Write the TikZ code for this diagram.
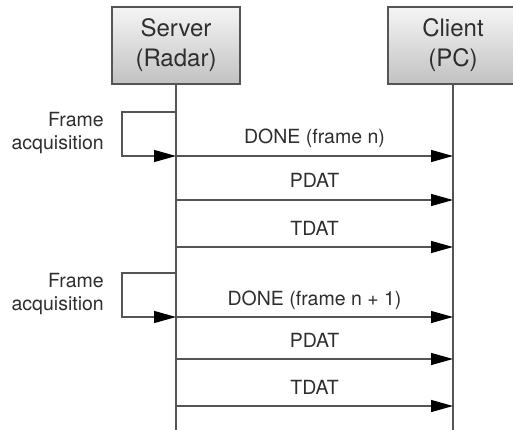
\documentclass[tikz,border=0pt]{standalone}
\usepackage{fontspec}
\setmainfont{TeX Gyre Heros}
\usepackage{xcolor}
\usetikzlibrary{positioning,calc,arrows.meta}
\definecolor{linegray}{HTML}{555555}
\definecolor{textgray}{HTML}{2E2E2E}

\begin{document}
\begin{tikzpicture}[x=1pt, y=-1pt,
    actor/.style={draw=linegray, line width=1.5pt, top color=gray!8, bottom color=gray!48, minimum width=128pt, minimum height=77pt, align=center, inner sep=0pt, text=textgray, font=\fontsize{24}{30}\selectfont},
    life/.style={draw=linegray, line width=1.2pt},
    msg/.style={draw=linegray, line width=1.2pt, -{Triangle[length=22pt, width=12pt, color=black]}},
    lbl/.style={inner sep=0pt, text=textgray, font=\fontsize{19.5}{23}\selectfont}
]
    \useasboundingbox (0,0) rectangle (513,430);

    \node [actor] (server) at (176,45.5) {Server\\(Radar)};
    \node [actor, minimum width=130pt] (client) at (453,45.5) {Client\\(PC)};

    % Lifelines
    \coordinate (serverEnd) at (176,430);
    \coordinate (clientEnd) at (453,430);
    \draw [life] (server.south) -- (serverEnd);
    \draw [life] (client.south) -- (clientEnd);

    % Messages
    \foreach \i/\y/\txt in {1/156/DONE (frame n), 2/200/PDAT, 3/247/TDAT, 4/317/DONE (frame n + 1), 5/359/PDAT, 6/406/TDAT} {
        \coordinate (s\i) at (176,\y);
        \coordinate (c\i) at (453,\y);
        \draw [msg] (s\i) -- node [lbl, anchor=base, yshift=12pt] (m\i) {\txt} (c\i);
    }

    % Frame acquisition loops
    \foreach \i/\top/\dst in {1/112/s1, 2/273/s4} {
        \coordinate (top\i) at (176,\top);
        \coordinate (corner\i) at (122,\top);
        \draw [msg] (top\i) -- (corner\i) |- (\dst);
        \node [lbl, align=right, anchor=east] (acq\i) at (104,\top+21) {Frame\\acquisition};
    }
\end{tikzpicture}
\end{document}
